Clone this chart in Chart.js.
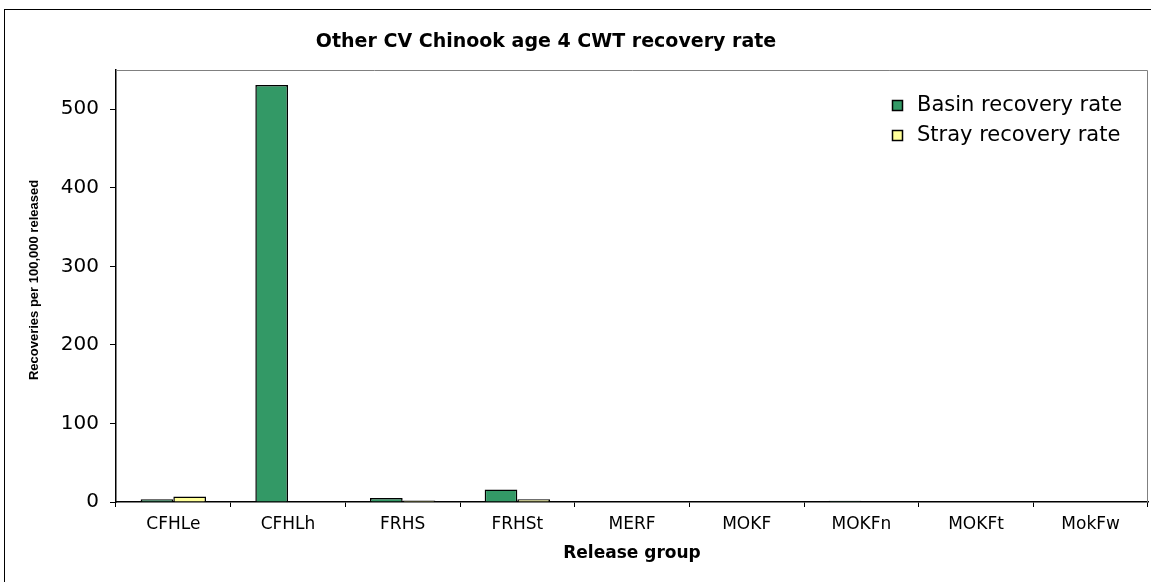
<!DOCTYPE html>
<html>
<head>
<meta charset="utf-8">
<title>Other CV Chinook age 4 CWT recovery rate</title>
<script src="https://cdn.jsdelivr.net/npm/chart.js@4.4.1/dist/chart.umd.min.js"></script>
<style>
  html, body { margin: 0; padding: 0; background: #ffffff; }
  #wrap { width: 1151px; height: 582px; position: relative; }
</style>
</head>
<body>
<div id="wrap"><canvas id="chart" width="1151" height="582"></canvas></div>
<script>
// Release groups and recovery rates (recoveries per 100,000 released)
const categories = ['CFHLe', 'CFHLh', 'FRHS', 'FRHSt', 'MERF', 'MOKF', 'MOKFn', 'MOKFt', 'MokFw'];
const basinRate = [3.4, 531, 5.1, 15.8, 0, 0, 1.5, 0, 0];
const strayRate = [6.9, 0, 1.8, 3.4, 0, 0, 0, 0, 0];
const yTickValues = [0, 100, 200, 300, 400, 500];
const yMax = 550;

const chartTitle = 'Other CV Chinook age 4 CWT recovery rate';
const xTitle = 'Release group';
const yTitle = 'Recoveries per 100,000 released';

const GREEN = '#339966';
const YELLOW = '#FFFF99';

// Outer frame, plot-area frame, chart title, y-axis title and in-plot legend
const decorations = {
  id: 'decorations',
  beforeDraw(chart) {
    const ctx = chart.ctx;
    ctx.save();
    ctx.fillStyle = '#ffffff';
    ctx.fillRect(0, 0, chart.width, chart.height);
    ctx.strokeStyle = '#000000';
    ctx.lineWidth = 1;
    ctx.strokeRect(4.5, 9.5, 1300, 800);
    ctx.restore();
  },
  afterDatasetsDraw(chart) {
    const ctx = chart.ctx;
    const a = chart.chartArea;
    ctx.save();
    // gray top and right edges of the plot area
    ctx.strokeStyle = '#808080';
    ctx.lineWidth = 1;
    ctx.beginPath();
    ctx.moveTo(a.left + 1, a.top + 0.5);
    ctx.lineTo(a.right - 0.5, a.top + 0.5);
    ctx.lineTo(a.right - 0.5, a.bottom);
    ctx.stroke();

    // title
    ctx.fillStyle = '#000000';
    ctx.font = 'bold 19px "DejaVu Sans", Arial, sans-serif';
    ctx.textAlign = 'center';
    ctx.textBaseline = 'middle';
    ctx.fillText(chartTitle, 546, 42);

    // y-axis title, rotated
    ctx.save();
    ctx.translate(34, 280);
    ctx.rotate(-Math.PI / 2);
    ctx.font = 'bold 13px "Liberation Sans Narrow", "Liberation Sans", Arial, sans-serif';
    ctx.fillText(yTitle, 0, 0);
    ctx.restore();

    // legend
    ctx.font = '21px "DejaVu Sans", Arial, sans-serif';
    ctx.textAlign = 'left';
    const rows = [105, 135];
    chart.data.datasets.forEach((ds, i) => {
      const y = rows[i];
      ctx.fillStyle = ds.backgroundColor;
      ctx.fillRect(892, y - 5, 10, 10);
      ctx.strokeStyle = '#000000';
      ctx.lineWidth = 1.5;
      ctx.strokeRect(892.5, y - 4.5, 10, 10);
      ctx.fillStyle = '#000000';
      ctx.fillText(ds.label, 917, y + 1);
    });
    ctx.restore();
  }
};

new Chart(document.getElementById('chart'), {
  type: 'bar',
  data: {
    labels: categories,
    datasets: [
      {
        label: 'Basin recovery rate',
        data: basinRate,
        backgroundColor: GREEN,
        borderColor: '#000000',
        borderWidth: 1.5
      },
      {
        label: 'Stray recovery rate',
        data: strayRate,
        backgroundColor: YELLOW,
        borderColor: '#000000',
        borderWidth: 1.5
      }
    ]
  },
  options: {
    responsive: false,
    animation: false,
    events: [],
    layout: { padding: { left: 0, top: 70, right: 3, bottom: 0 } },
    datasets: {
      bar: { categoryPercentage: 0.57, barPercentage: 1.0, borderSkipped: 'start' }
    },
    plugins: {
      legend: { display: false },
      title: { display: false },
      tooltip: { enabled: false }
    },
    scales: {
      x: {
        type: 'category',
        offset: true,
        afterFit(scale) { scale.height = 80; },
        border: { display: true, color: '#000000', width: 1.5 },
        grid: {
          offset: true,
          drawOnChartArea: false,
          drawTicks: true,
          tickLength: 5,
          color: '#000000'
        },
        ticks: {
          color: '#000000',
          padding: 7,
          maxRotation: 0,
          autoSkip: false,
          font: { family: '"DejaVu Sans", Arial, sans-serif', size: 17 }
        },
        title: {
          display: true,
          text: xTitle,
          color: '#000000',
          font: { family: '"DejaVu Sans", Arial, sans-serif', size: 17, weight: 'bold' },
          padding: { top: 0, bottom: 18 }
        }
      },
      y: {
        type: 'linear',
        min: 0,
        max: yMax,
        afterFit(scale) { scale.width = 116; },
        afterBuildTicks(scale) { scale.ticks = yTickValues.map(v => ({ value: v })); },
        border: { display: true, color: '#000000', width: 1.5 },
        grid: {
          drawOnChartArea: false,
          drawTicks: true,
          tickLength: 6,
          color: '#000000'
        },
        ticks: {
          color: '#000000',
          padding: 11,
          font: { family: '"DejaVu Sans", Arial, sans-serif', size: 20 }
        },
        title: { display: false }
      }
    }
  },
  plugins: [decorations]
});
</script>
</body>
</html>
